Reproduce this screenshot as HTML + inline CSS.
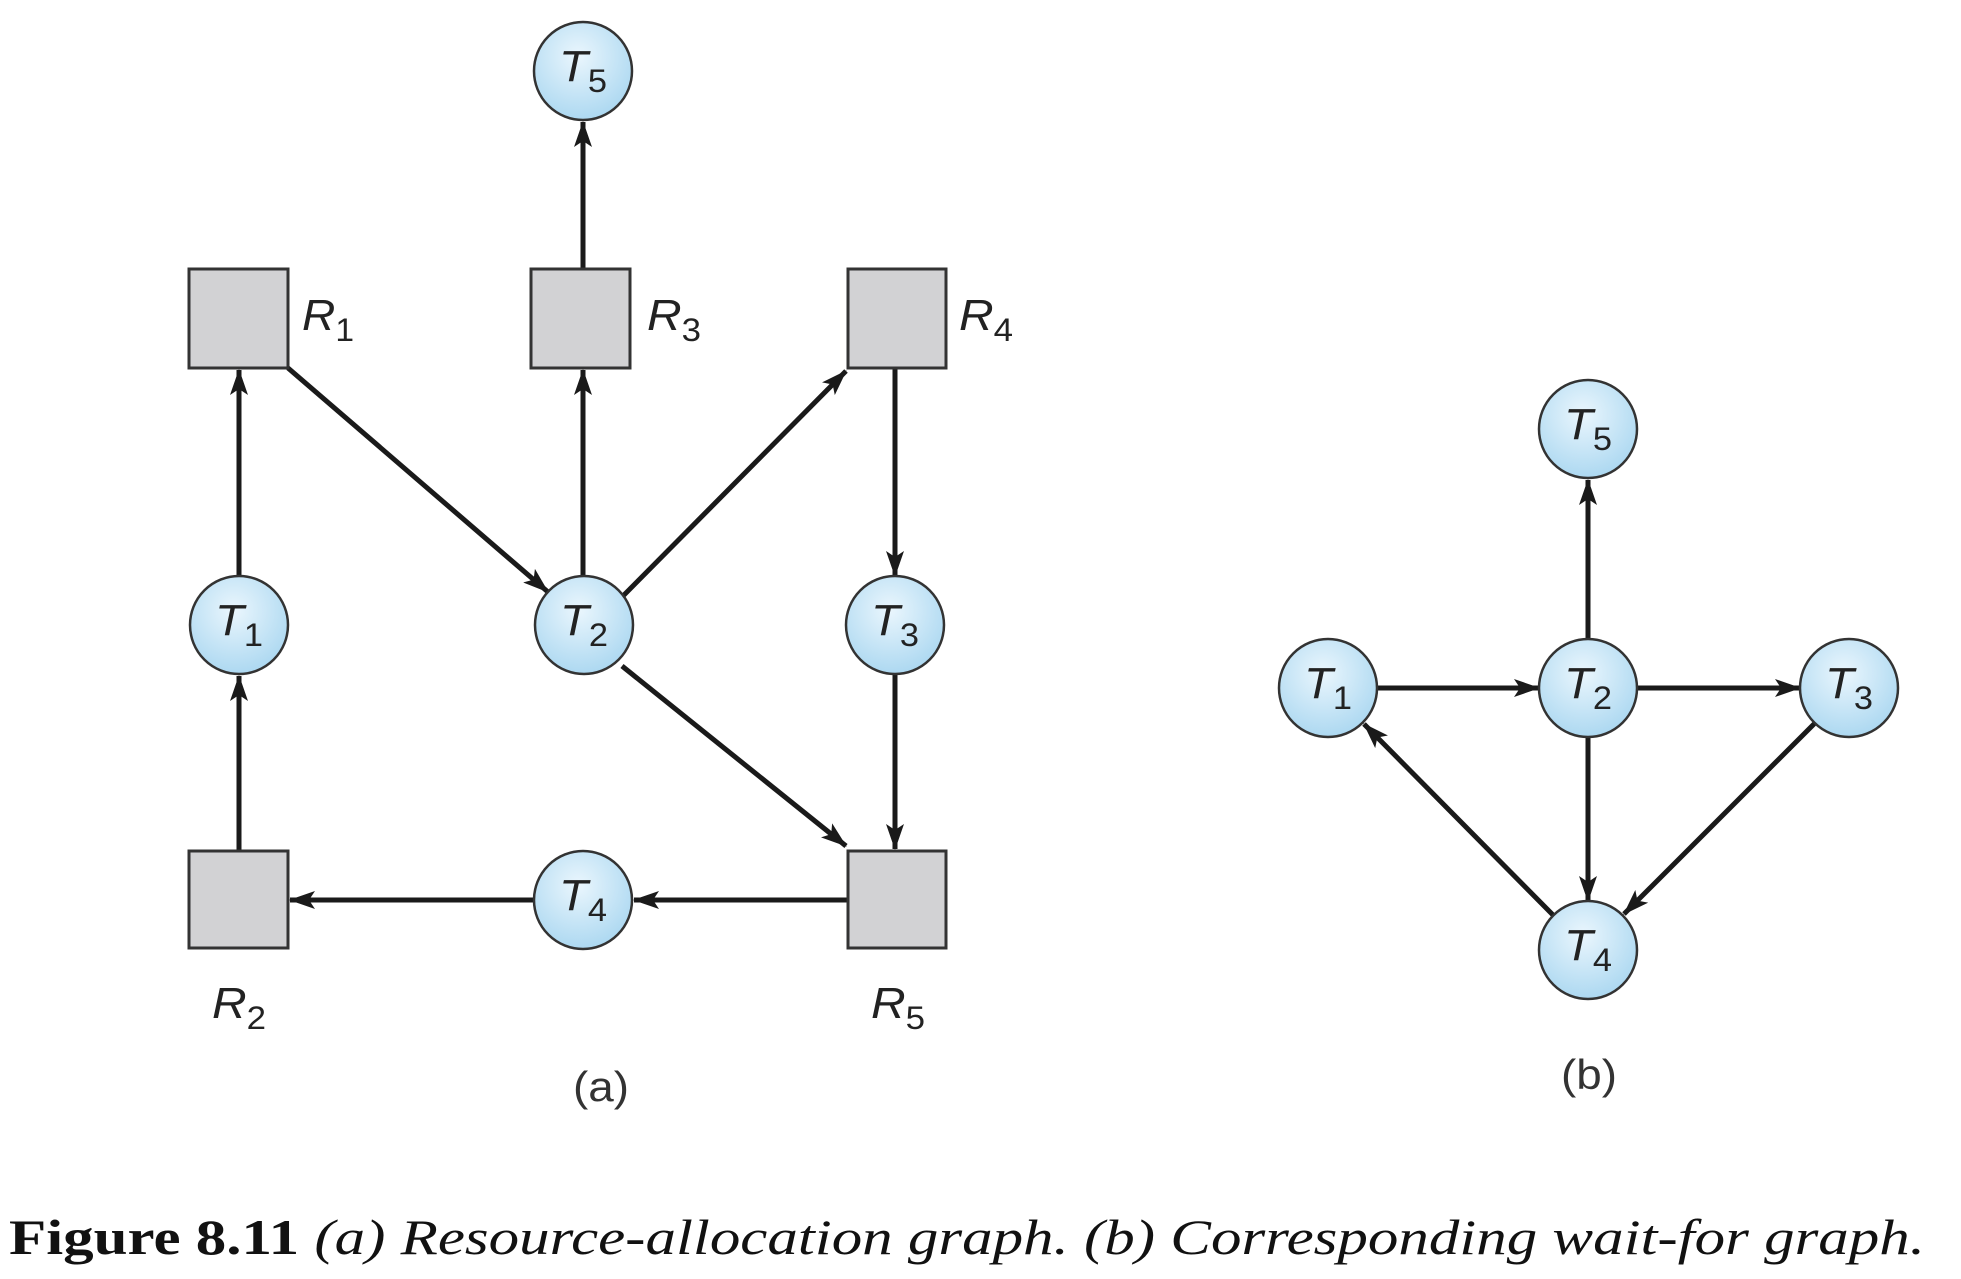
<!DOCTYPE html>
<html><head><meta charset="utf-8"><style>
html,body{margin:0;padding:0;background:#fff;}
svg{display:block;}
.l{font-family:"Liberation Sans",sans-serif;font-style:italic;font-size:44px;fill:#222;}
.s{font-style:normal;font-size:32px;}
.p{font-family:"Liberation Sans",sans-serif;font-size:42px;fill:#333;}
</style></head><body>
<svg width="1961" height="1279" viewBox="0 0 1961 1279" xmlns="http://www.w3.org/2000/svg">
<defs>
<marker id="h" viewBox="0 0 26 18" refX="25" refY="9" markerWidth="26" markerHeight="18" orient="auto" markerUnits="userSpaceOnUse">
<path d="M0,0 L26,9 L0,18 L6,9 Z" fill="#1a1a1a"/>
</marker>
<radialGradient id="g" cx="45%" cy="35%" r="70%">
<stop offset="0" stop-color="#eaf6fd"/><stop offset="1" stop-color="#a8d6f0"/>
</radialGradient>
</defs>
<g stroke="#1a1a1a" stroke-width="5" fill="none" marker-end="url(#h)">
<line x1="288" y1="368" x2="548" y2="592"/>
<line x1="239" y1="576" x2="239" y2="370"/>
<line x1="239" y1="851" x2="239" y2="676"/>
<line x1="583" y1="576" x2="583" y2="370"/>
<line x1="583" y1="269" x2="583" y2="122"/>
<line x1="622" y1="597" x2="846" y2="371"/>
<line x1="895" y1="368" x2="895" y2="576"/>
<line x1="895" y1="674" x2="895" y2="849"/>
<line x1="622" y1="666" x2="846" y2="846"/>
<line x1="848" y1="900" x2="634" y2="900"/>
<line x1="534" y1="900" x2="290" y2="900"/>
<line x1="1588" y1="639" x2="1588" y2="480"/>
<line x1="1377" y1="688" x2="1539" y2="688"/>
<line x1="1637" y1="688" x2="1800" y2="688"/>
<line x1="1588" y1="737" x2="1588" y2="901"/>
<line x1="1815" y1="723" x2="1624" y2="914"/>
<line x1="1553" y1="915" x2="1364" y2="724"/>
</g>
<g fill="#d2d2d4" stroke="#333" stroke-width="3">
<rect x="189" y="269" width="99" height="99"/>
<rect x="531" y="269" width="99" height="99"/>
<rect x="848" y="269" width="98" height="99"/>
<rect x="189" y="851" width="99" height="97"/>
<rect x="848" y="851" width="98" height="97"/>
</g>
<g fill="url(#g)" stroke="#333" stroke-width="2.5">
<circle cx="583" cy="71" r="49"/>
<circle cx="239" cy="625" r="49"/>
<circle cx="584" cy="625" r="49"/>
<circle cx="895" cy="625" r="49"/>
<circle cx="583" cy="900" r="49"/>
<circle cx="1588" cy="429" r="49"/>
<circle cx="1328" cy="688" r="49"/>
<circle cx="1588" cy="688" r="49"/>
<circle cx="1849" cy="688" r="49"/>
<circle cx="1588" cy="950" r="49"/>
</g>
<g class="l" text-anchor="middle" transform="translate(0,0)">
<text x="583" y="81" textLength="48" lengthAdjust="spacingAndGlyphs">T<tspan class="s" dy="11">5</tspan></text>
<text x="239" y="635" textLength="48" lengthAdjust="spacingAndGlyphs">T<tspan class="s" dy="11">1</tspan></text>
<text x="584" y="635" textLength="48" lengthAdjust="spacingAndGlyphs">T<tspan class="s" dy="11">2</tspan></text>
<text x="895" y="635" textLength="48" lengthAdjust="spacingAndGlyphs">T<tspan class="s" dy="11">3</tspan></text>
<text x="583" y="910" textLength="48" lengthAdjust="spacingAndGlyphs">T<tspan class="s" dy="11">4</tspan></text>
<text x="1588" y="439" textLength="48" lengthAdjust="spacingAndGlyphs">T<tspan class="s" dy="11">5</tspan></text>
<text x="1328" y="698" textLength="48" lengthAdjust="spacingAndGlyphs">T<tspan class="s" dy="11">1</tspan></text>
<text x="1588" y="698" textLength="48" lengthAdjust="spacingAndGlyphs">T<tspan class="s" dy="11">2</tspan></text>
<text x="1849" y="698" textLength="48" lengthAdjust="spacingAndGlyphs">T<tspan class="s" dy="11">3</tspan></text>
<text x="1588" y="960" textLength="48" lengthAdjust="spacingAndGlyphs">T<tspan class="s" dy="11">4</tspan></text>
</g>
<g class="l">
<text x="302" y="330" textLength="52" lengthAdjust="spacingAndGlyphs">R<tspan class="s" dy="11">1</tspan></text>
<text x="647" y="330" textLength="54" lengthAdjust="spacingAndGlyphs">R<tspan class="s" dy="11">3</tspan></text>
<text x="959" y="330" textLength="54" lengthAdjust="spacingAndGlyphs">R<tspan class="s" dy="11">4</tspan></text>
<text x="212" y="1018" textLength="54" lengthAdjust="spacingAndGlyphs">R<tspan class="s" dy="11">2</tspan></text>
<text x="871" y="1018" textLength="54" lengthAdjust="spacingAndGlyphs">R<tspan class="s" dy="11">5</tspan></text>
</g>
<text class="p" x="601" y="1101" text-anchor="middle" textLength="56" lengthAdjust="spacingAndGlyphs">(a)</text>
<text class="p" x="1589" y="1089" text-anchor="middle" textLength="56" lengthAdjust="spacingAndGlyphs">(b)</text>
<text x="9" y="1254" textLength="1916" lengthAdjust="spacingAndGlyphs" font-family="Liberation Serif, serif" font-size="50" fill="#111"><tspan font-weight="bold">Figure 8.11</tspan><tspan font-style="italic">  (a) Resource-allocation graph. (b) Corresponding wait-for graph.</tspan></text>
</svg>
</body></html>
